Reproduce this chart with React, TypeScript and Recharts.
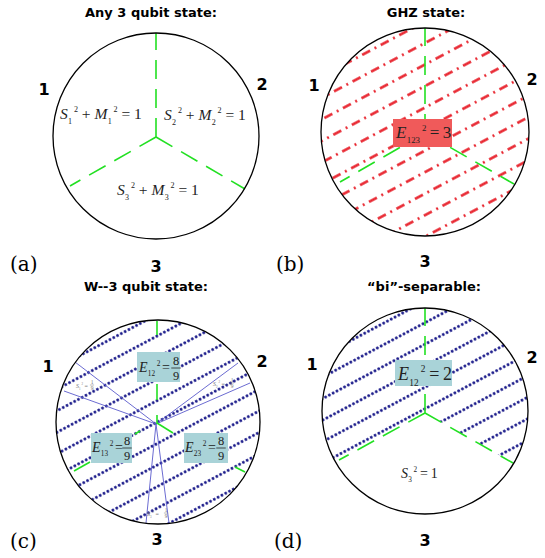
import React from 'react';
import { ComposedChart, Scatter, XAxis, YAxis } from 'recharts';

// canvas is in pixel units: x 0..545, y 0..558 (y axis reversed)
const W = 545;
const H = 558;

const GREEN = '#22e022';
const RED_BOX = '#f05a5a';
const TEAL_BOX = '#a9d3d8';
const DOT_BLUE = '#1a1a8a';
const RAY_BLUE = '#5a5acc';

const TS = '\u2009'; // thin space used inside the box formulas

// --- circles (one per panel) ---
const panels = [
  { id: 'a', x: 156, y: 136, r: 103, hatch: 'none' },
  { id: 'b', x: 425, y: 132, r: 104, hatch: 'red' },
  { id: 'c', x: 158, y: 422, r: 102, hatch: 'blue' },
  { id: 'd', x: 425, y: 411, r: 103, hatch: 'blueUpper' },
];

// --- green dashed separators [x1, y1, x2, y2] ---
const greenA = [[156, 137, 156, 33], [156, 137, 70, 186], [156, 137, 245, 189]];
const greenB = [[425, 133, 425, 28], [425, 133, 340, 182], [425, 133, 514, 184]];
const greenD = [[425, 413, 425, 308], [425, 413, 339, 460], [425, 413, 513, 463]];
// in (c) only short pieces of the separators show
const greenC = [
  [157, 321, 157, 335], [157, 384, 157, 400], [157, 415, 157, 424],
  [157, 423, 173, 433], [135, 434, 140, 431], [74, 471, 90, 462], [235, 467, 245, 472],
];

// --- thin rays of panel (c) ---
const wRays = [
  [156, 424, 75, 362], [156, 424, 64, 391],
  [156, 424, 238, 363], [156, 424, 250, 383],
  [156, 424, 146, 523], [156, 424, 169, 523],
];

// --- label boxes (top-left corner, size) ---
const boxes = [
  { x: 393, y: 119, w: 59, h: 28, fill: RED_BOX },
  { x: 137, y: 352, w: 43, h: 30, fill: TEAL_BOX },
  { x: 91, y: 433, w: 41, h: 30, fill: TEAL_BOX },
  { x: 184, y: 433, w: 44, h: 30, fill: TEAL_BOX },
  { x: 395, y: 360, w: 57, h: 26, fill: TEAL_BOX },
];

// --- formulas: start x, baseline y ---
const formulas = [
  { x: 60, y: 119, size: 15.5, src: 'S_1^2 + M_1^2 = 1', color: '#222' },
  { x: 164, y: 120, size: 15.5, src: 'S_2^2 + M_2^2 = 1', color: '#222' },
  { x: 117, y: 195, size: 15.5, src: 'S_3^2 + M_3^2 = 1', color: '#222' },
  { x: 396, y: 138, size: 17, src: `E_123^2${TS}=${TS}3`, color: '#222' },
  { x: 139, y: 372, size: 14, src: 'E_12^2=', color: '#222' },
  { x: 92, y: 452, size: 14, src: 'E_13^2=', color: '#222' },
  { x: 185, y: 452, size: 14, src: 'E_23^2=', color: '#222' },
  { x: 398, y: 380, size: 18, src: `E_12^2${TS}=${TS}2`, color: '#222' },
  { x: 401, y: 478, size: 14, src: `S_3^2${TS}=${TS}1`, color: '#222' },
  { x: 76, y: 388, size: 6, src: 'S_1^2 =', color: '#777' },
  { x: 213, y: 386, size: 6, src: 'S_2^2 =', color: '#777' },
  { x: 147, y: 516, size: 6, src: 'S_3^2 =', color: '#777' },
];

// --- stacked fractions: centre x, bar y ---
const fractions = [
  { x: 176, y: 368, num: '8', den: '9', size: 12.5, color: '#222' },
  { x: 127, y: 448, num: '8', den: '9', size: 12.5, color: '#222' },
  { x: 221, y: 448, num: '8', den: '9', size: 12.5, color: '#222' },
  { x: 92, y: 385, num: '1', den: '9', size: 5.5, color: '#777' },
  { x: 232, y: 383, num: '1', den: '9', size: 5.5, color: '#777' },
  { x: 166, y: 513, num: '1', den: '9', size: 5.5, color: '#777' },
];

const titles = [
  { x: 151, y: 17, text: 'Any 3 qubit state:' },
  { x: 426, y: 17, text: 'GHZ state:' },
  { x: 146, y: 291, text: 'W--3 qubit state:' },
  { x: 424, y: 291, text: '\u201cbi\u201d-separable:' },
];

const partyLabels = [
  { x: 44, y: 95, text: '1' }, { x: 262, y: 90, text: '2' }, { x: 156, y: 272, text: '3' },
  { x: 314, y: 91, text: '1' }, { x: 532, y: 85, text: '2' }, { x: 425, y: 267, text: '3' },
  { x: 48, y: 372, text: '1' }, { x: 262, y: 367, text: '2' }, { x: 157, y: 545, text: '3' },
  { x: 312, y: 370, text: '1' }, { x: 532, y: 363, text: '2' }, { x: 425, y: 546, text: '3' },
];

const panelTags = [
  { x: 10, y: 271, text: '(a)' },
  { x: 276, y: 271, text: '(b)' },
  { x: 10, y: 548, text: '(c)' },
  { x: 274, y: 548, text: '(d)' },
];

const seg = (s: number[]) => [{ x: s[0], y: s[1] }, { x: s[2], y: s[3] }];
const noPoint = () => <g />;

const HATCH_GAP = 19;

const DiskShape = (p: any) => {
  const { cx, cy, payload } = p;
  const r = payload.r;
  const clip = `clip-${payload.id}`;
  const pat = `hatch-${payload.id}`;
  let pattern: React.ReactNode = null;
  if (payload.hatch === 'red') {
    pattern = (
      <pattern id={pat} patternUnits="userSpaceOnUse" width={21} height={HATCH_GAP} patternTransform="rotate(-28)">
        <line x1={0} y1={HATCH_GAP / 2} x2={21} y2={HATCH_GAP / 2} stroke="#e8202a" strokeWidth={2.3} strokeDasharray="9 5 2 5" />
      </pattern>
    );
  } else if (payload.hatch !== 'none') {
    pattern = (
      <pattern id={pat} patternUnits="userSpaceOnUse" width={4.3} height={HATCH_GAP} patternTransform="rotate(-28)">
        <circle cx={2.15} cy={HATCH_GAP / 2} r={1.4} fill={DOT_BLUE} />
      </pattern>
    );
  }
  let region: React.ReactNode = null;
  if (payload.hatch === 'blueUpper') {
    // hatch only above the two lower separators of panel (d)
    const c = { x: cx + (greenD[0][0] - payload.x), y: cy + (greenD[0][1] - payload.y) };
    const ext = (s: number[]) => ({
      x: c.x + 3 * (s[2] - s[0]),
      y: c.y + 3 * (s[3] - s[1]),
    });
    const L = ext(greenD[1]);
    const R = ext(greenD[2]);
    const d = `M${c.x},${c.y} L${L.x},${L.y} L${L.x},${cy - 3 * r} L${R.x},${cy - 3 * r} L${R.x},${R.y} Z`;
    region = <path d={d} fill={`url(#${pat})`} clipPath={`url(#${clip})`} />;
  } else if (payload.hatch !== 'none') {
    region = <circle cx={cx} cy={cy} r={r} fill={`url(#${pat})`} clipPath={`url(#${clip})`} />;
  }
  return (
    <g>
      <defs>
        <clipPath id={clip}>
          <circle cx={cx} cy={cy} r={r} />
        </clipPath>
        {pattern}
      </defs>
      <circle cx={cx} cy={cy} r={r} fill="#fff" />
      {region}
    </g>
  );
};

const RingShape = (p: any) => (
  <circle cx={p.cx} cy={p.cy} r={p.payload.r} fill="none" stroke="#000" strokeWidth={1.3} />
);

const BoxShape = (p: any) => (
  <rect x={p.cx} y={p.cy} width={p.payload.w} height={p.payload.h} fill={p.payload.fill} />
);

const FormulaShape = (p: any) => {
  const { cx, cy, payload } = p;
  const size = payload.size;
  const tokens: string[] = payload.src.match(/(_\d+|\^\d+|[A-Z]|[^_^A-Z]+)/g) || [];
  let cur = 0;
  const spans = tokens.map((t, i) => {
    let target = 0;
    let fs = size;
    let dx = 0;
    let text = t;
    let italic = false;
    if (t[0] === '_') {
      target = 0.32 * size;
      fs = 0.52 * size;
      dx = 0.02 * size;
      text = t.slice(1);
    } else if (t[0] === '^') {
      target = -0.42 * size;
      fs = 0.52 * size;
      dx = 0.12 * size;
      text = t.slice(1);
    } else if (/[A-Z]/.test(t)) {
      italic = true;
    } else if (t === '=') {
      dx = 0.12 * size;
    }
    const dy = target - cur;
    cur = target;
    return (
      <tspan key={i} dy={dy} dx={dx} fontSize={fs} fontStyle={italic ? 'italic' : 'normal'}>
        {text}
      </tspan>
    );
  });
  return (
    <text x={cx} y={cy} fill={payload.color} fontFamily="Liberation Serif" fontSize={size} style={{ whiteSpace: 'pre' }}>
      {spans}
    </text>
  );
};

const FractionShape = (p: any) => {
  const { cx, cy, payload } = p;
  const s = payload.size;
  return (
    <g fill={payload.color} fontFamily="Liberation Serif" fontSize={s} textAnchor="middle">
      <text x={cx} y={cy - 0.25 * s}>{payload.num}</text>
      <line x1={cx - 0.38 * s} y1={cy} x2={cx + 0.38 * s} y2={cy} stroke={payload.color} strokeWidth={Math.max(0.5, s / 16)} />
      <text x={cx} y={cy + 0.92 * s}>{payload.den}</text>
    </g>
  );
};

const TitleShape = (p: any) => (
  <text x={p.cx} y={p.cy} textAnchor="middle" fontFamily="DejaVu Sans" fontWeight={700} fontSize={13} fill="#000">
    {p.payload.text}
  </text>
);

const PartyShape = (p: any) => (
  <text x={p.cx} y={p.cy} textAnchor="middle" fontFamily="DejaVu Sans" fontWeight={700} fontSize={16} fill="#000">
    {p.payload.text}
  </text>
);

const TagShape = (p: any) => (
  <text x={p.cx} y={p.cy} fontFamily="DejaVu Serif" fontSize={20} fill="#000">
    {p.payload.text}
  </text>
);

export default function App() {
  return (
    <div style={{ position: 'absolute', left: 0, top: 0, width: W, height: H, background: '#fff' }}>
      <ComposedChart width={W} height={H} margin={{ top: 0, right: 0, bottom: 0, left: 0 }}>
        <XAxis type="number" dataKey="x" domain={[0, W]} allowDataOverflow hide />
        <YAxis type="number" dataKey="y" domain={[0, H]} allowDataOverflow reversed hide />

        <Scatter data={panels} shape={DiskShape} isAnimationActive={false} />

        {wRays.map((s, i) => (
          <Scatter key={`ray${i}`} data={seg(s)} shape={noPoint} line={{ stroke: RAY_BLUE, strokeWidth: 0.9 }} isAnimationActive={false} />
        ))}
        {[...greenA, ...greenB, ...greenD].map((s, i) => (
          <Scatter key={`g${i}`} data={seg(s)} shape={noPoint} line={{ stroke: GREEN, strokeWidth: 1.6, strokeDasharray: '19 10' }} isAnimationActive={false} />
        ))}
        {greenC.map((s, i) => (
          <Scatter key={`gc${i}`} data={seg(s)} shape={noPoint} line={{ stroke: GREEN, strokeWidth: 1.6 }} isAnimationActive={false} />
        ))}

        <Scatter data={panels} shape={RingShape} isAnimationActive={false} />
        <Scatter data={boxes} shape={BoxShape} isAnimationActive={false} />
        <Scatter data={formulas} shape={FormulaShape} isAnimationActive={false} />
        <Scatter data={fractions} shape={FractionShape} isAnimationActive={false} />
        <Scatter data={titles} shape={TitleShape} isAnimationActive={false} />
        <Scatter data={partyLabels} shape={PartyShape} isAnimationActive={false} />
        <Scatter data={panelTags} shape={TagShape} isAnimationActive={false} />
      </ComposedChart>
    </div>
  );
}
